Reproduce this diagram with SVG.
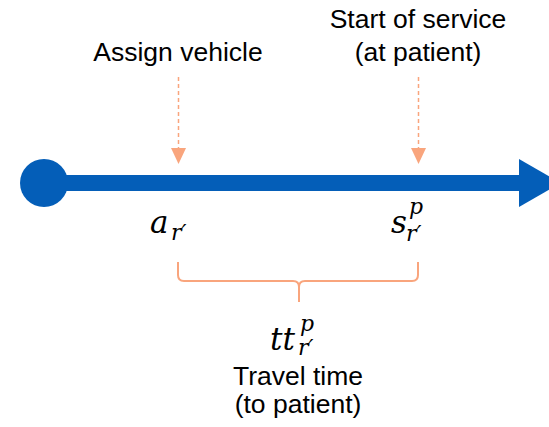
<svg xmlns="http://www.w3.org/2000/svg" width="549" height="427" viewBox="0 0 549 427">
<defs>
<style>
.lbl{font-family:"Liberation Sans",Arial,sans-serif;font-size:26.5px;fill:#000;text-anchor:middle}
.m{font-family:"DejaVu Serif","Liberation Serif",serif;font-style:italic;fill:#000}
.big{font-size:31px}
.sm{font-size:22px}
.dash{stroke:#F9A57D;stroke-width:1.5;stroke-dasharray:4 3;fill:none}
.head{fill:#F9A57D}
.brace{stroke:#F9A57D;stroke-width:2;fill:none}
.blue{fill:#045EB8}
</style>
</defs>
<rect width="549" height="427" fill="#fff"/>
<g id="timeline">
<circle class="blue" cx="44" cy="183" r="24"/>
<rect class="blue" x="44" y="175" width="477" height="16"/>
<polygon class="blue" points="519,159 519,207 561,183"/>
</g>
<g id="assign">
<text class="lbl" x="178" y="61">Assign vehicle</text>
</g>
<g id="start">
<text class="lbl" x="418" y="28">Start of service</text>
<text class="lbl" x="418" y="61">(at patient)</text>
</g>
<g id="connectors">
<line class="dash" x1="178.5" y1="77" x2="178.5" y2="150"/>
<polygon class="head" points="171,148 186,148 178.5,164"/>
<line class="dash" x1="418.5" y1="77" x2="418.5" y2="150"/>
<polygon class="head" points="411,148 426,148 418.5,164"/>
<path class="brace" d="M178,262 V275 Q178,281 184,281 H293 Q299,281 299,287 V302 M299,287 Q299,281 305,281 H412 Q418,281 418,275 V262"/>
</g>
<g id="a">
<text class="m big" x="150" y="233">a</text>
<text class="m sm" x="171" y="240">r′</text>
</g>
<g id="s">
<text class="m big" x="391" y="233">s</text>
<text class="m sm" x="409" y="214">p</text>
<text class="m sm" x="406" y="241">r′</text>
</g>
<g id="tt">
<text class="m big" x="270" y="350">tt</text>
<text class="m sm" x="300" y="331">p</text>
<text class="m sm" x="298" y="355">r′</text>
<text class="lbl" x="298" y="385">Travel time</text>
<text class="lbl" x="298" y="413">(to patient)</text>
</g>
</svg>
